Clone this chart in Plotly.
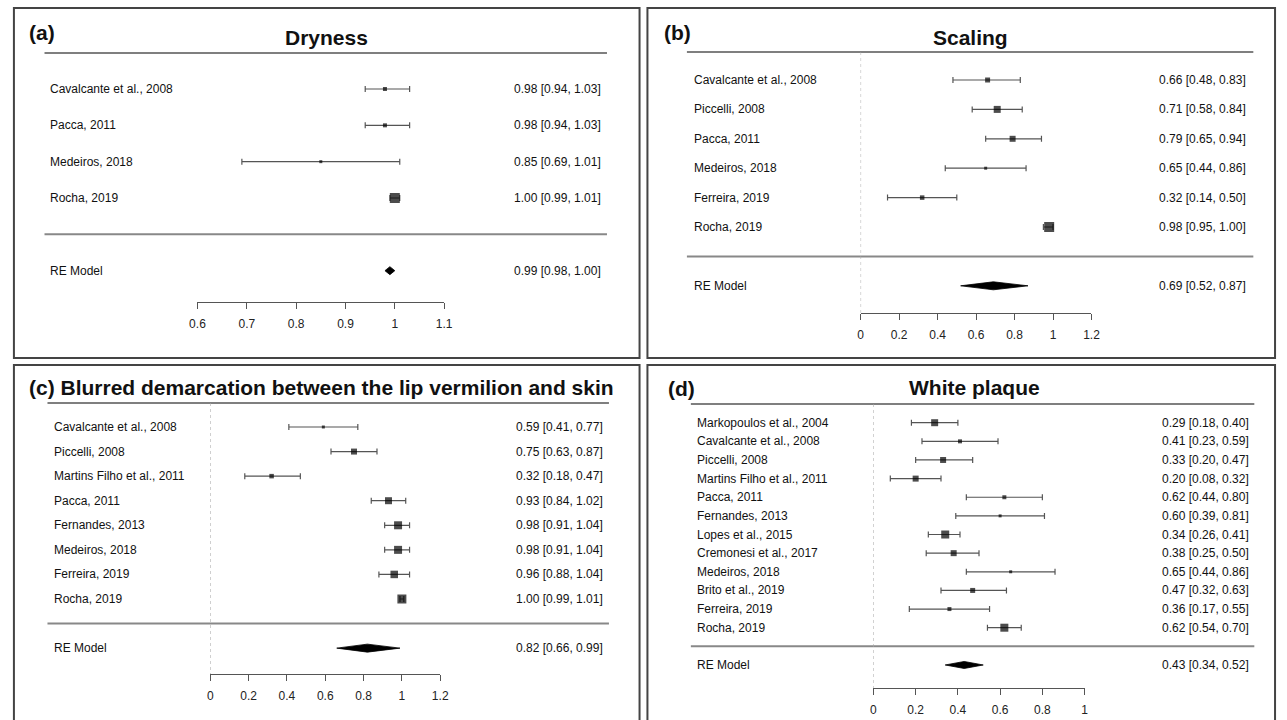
import plotly.graph_objects as go

W, H = 1287, 720
FONT = "Liberation Sans, Arial, Helvetica, sans-serif"

# ---------------- data ----------------
a_studies = ["Cavalcante et al., 2008", "Pacca, 2011", "Medeiros, 2018", "Rocha, 2019"]
a_est = [0.98, 0.98, 0.85, 1.00]
a_lo = [0.94, 0.94, 0.69, 0.99]
a_hi = [1.03, 1.03, 1.01, 1.01]
a_size = [4, 4, 3, 10]
a_re = [0.99, 0.98, 1.00]
a_ticks = [0.6, 0.7, 0.8, 0.9, 1.0, 1.1]

b_studies = ["Cavalcante et al., 2008", "Piccelli, 2008", "Pacca, 2011", "Medeiros, 2018",
             "Ferreira, 2019", "Rocha, 2019"]
b_est = [0.66, 0.71, 0.79, 0.65, 0.32, 0.98]
b_lo = [0.48, 0.58, 0.65, 0.44, 0.14, 0.95]
b_hi = [0.83, 0.84, 0.94, 0.86, 0.50, 1.00]
b_size = [5, 7, 6, 3, 4.5, 10]
b_re = [0.69, 0.52, 0.87]
b_ticks = [0, 0.2, 0.4, 0.6, 0.8, 1.0, 1.2]

c_studies = ["Cavalcante et al., 2008", "Piccelli, 2008", "Martins Filho et al., 2011", "Pacca, 2011",
             "Fernandes, 2013", "Medeiros, 2018", "Ferreira, 2019", "Rocha, 2019"]
c_est = [0.59, 0.75, 0.32, 0.93, 0.98, 0.98, 0.96, 1.00]
c_lo = [0.41, 0.63, 0.18, 0.84, 0.91, 0.91, 0.88, 0.99]
c_hi = [0.77, 0.87, 0.47, 1.02, 1.04, 1.04, 1.04, 1.01]
c_size = [3, 6, 4.5, 7, 8, 8, 7.5, 9]
c_re = [0.82, 0.66, 0.99]
c_ticks = [0, 0.2, 0.4, 0.6, 0.8, 1.0, 1.2]

d_studies = ["Markopoulos et al., 2004", "Cavalcante et al., 2008", "Piccelli, 2008",
             "Martins Filho et al., 2011", "Pacca, 2011", "Fernandes, 2013", "Lopes et al., 2015",
             "Cremonesi et al., 2017", "Medeiros, 2018", "Brito et al., 2019", "Ferreira, 2019",
             "Rocha, 2019"]
d_est = [0.29, 0.41, 0.33, 0.20, 0.62, 0.60, 0.34, 0.38, 0.65, 0.47, 0.36, 0.62]
d_lo = [0.18, 0.23, 0.20, 0.08, 0.44, 0.39, 0.26, 0.25, 0.44, 0.32, 0.17, 0.54]
d_hi = [0.40, 0.59, 0.47, 0.32, 0.80, 0.81, 0.41, 0.50, 0.86, 0.63, 0.55, 0.70]
d_size = [7, 4, 6, 6, 4, 3, 8, 6, 3, 5, 4, 8]
d_re = [0.43, 0.34, 0.52]
d_ticks = [0, 0.2, 0.4, 0.6, 0.8, 1.0]

panels = [
    dict(studies=a_studies, est=a_est, lo=a_lo, hi=a_hi, size=a_size, re=a_re, ticks=a_ticks,
         box=(6, 8, 640, 358), label_x=44, text_x=600, line_x=(37, 607), top_line=53,
         row_top=89, row_bot=198, axis_y=302, xpx=(192, 442), zero_line=False, dia_h=4,
         tag="(a)", tag_pos=(22, 33), title="Dryness", title_pos=(323, 37)),
    dict(studies=b_studies, est=b_est, lo=b_lo, hi=b_hi, size=b_size, re=b_re, ticks=b_ticks,
         box=(648, 8, 1284, 358), label_x=696, text_x=1254, line_x=(688, 1262), top_line=52,
         row_top=80, row_bot=227, axis_y=313, xpx=(864, 1098), zero_line=True, dia_h=4,
         tag="(b)", tag_pos=(666, 33), title="Scaling", title_pos=(975, 37)),
    dict(studies=c_studies, est=c_est, lo=c_lo, hi=c_hi, size=c_size, re=c_re, ticks=c_ticks,
         box=(6, 365, 640, 724), label_x=48, text_x=602, line_x=(40, 609), top_line=403,
         row_top=427, row_bot=599, axis_y=674, xpx=(205, 438), zero_line=True, dia_h=4,
         tag=None, tag_pos=None, title="(c) Blurred demarcation between the lip vermilion and skin",
         title_pos=(22, 387)),
    dict(studies=d_studies, est=d_est, lo=d_lo, hi=d_hi, size=d_size, re=d_re, ticks=d_ticks,
         box=(648, 365, 1284, 724), label_x=699, text_x=1257, line_x=(692, 1263), top_line=404,
         row_top=422.7, row_bot=627.7, axis_y=688, xpx=(877, 1091), zero_line=True, dia_h=3.5,
         tag="(d)", tag_pos=(670, 388), title="White plaque", title_pos=(979, 387)),
]

PAD = 3  # annotation inner padding, in px


def fx(px):
    return px / W


def fy(py):
    return 1 - py / H


fig = go.Figure()
annotations = []
shapes = []
layout_axes = {}


def fmt(e, l, h):
    return f"{e:.2f} [{l:.2f}, {h:.2f}]"


def tick_label(v):
    return f"{v:g}"


def txt(x, y, yref, text, anchor, size=12, bold=False):
    return dict(x=x, xref="paper", y=y, yref=yref, text=("<b>" + text + "</b>") if bold else text,
                xanchor=anchor, yanchor="middle", showarrow=False,
                font=dict(size=size, color="#111111", family=FONT))


for i, p in enumerate(panels):
    n = i + 1
    xa = "x" if n == 1 else f"x{n}"
    ya = "y" if n == 1 else f"y{n}"
    k = len(p["studies"])
    s = (p["row_bot"] - p["row_top"]) / (k - 1)

    def px2r(py, p=p, s=s):
        return 1 + (p["row_bot"] - py) / s

    rows = list(range(k, 0, -1))

    # confidence intervals (drawn first, under the squares)
    fig.add_trace(go.Scatter(
        x=p["est"], y=rows, mode="markers", xaxis=xa, yaxis=ya,
        marker=dict(size=1, color="rgba(0,0,0,0)"),
        error_x=dict(type="data", symmetric=False,
                     array=[h - e for e, h in zip(p["est"], p["hi"])],
                     arrayminus=[e - l for e, l in zip(p["est"], p["lo"])],
                     color="#555555", thickness=1.2, width=3),
        cliponaxis=False, showlegend=False, hoverinfo="skip"))
    # study estimates
    fig.add_trace(go.Scatter(
        x=p["est"], y=rows, mode="markers", xaxis=xa, yaxis=ya,
        marker=dict(symbol="square", size=p["size"], color="black", line=dict(width=0)),
        cliponaxis=False, showlegend=False, hoverinfo="skip"))

    # RE model diamond
    re_e, re_l, re_h = p["re"]
    dh = p["dia_h"] / s
    fig.add_trace(go.Scatter(
        x=[re_l, re_e, re_h, re_e, re_l], y=[-1, -1 + dh, -1, -1 - dh, -1],
        mode="lines", fill="toself", fillcolor="black", line=dict(color="black", width=0.8),
        xaxis=xa, yaxis=ya, showlegend=False, hoverinfo="skip"))

    x0px, x1px = p["xpx"]
    layout_axes["xaxis" if n == 1 else f"xaxis{n}"] = dict(
        domain=[fx(x0px), fx(x1px)], range=[p["ticks"][0], p["ticks"][-1]], anchor=ya,
        tickvals=p["ticks"], ticktext=[tick_label(v) for v in p["ticks"]],
        ticks="outside", ticklen=6, tickwidth=1.2, tickcolor="#555555",
        showline=True, linecolor="#555555", linewidth=1.2, showgrid=False, zeroline=False,
        tickfont=dict(size=12, color="#222222", family=FONT), ticklabelstandoff=4,
        fixedrange=True)
    bx0, by0, bx1, by1 = p["box"]
    layout_axes["yaxis" if n == 1 else f"yaxis{n}"] = dict(
        domain=[fy(p["axis_y"]), fy(by0 + 2)], range=[px2r(p["axis_y"]), px2r(by0 + 2)],
        anchor=xa, visible=False, fixedrange=True)

    # study labels and values
    lx = fx(p["label_x"] - PAD)
    rx = fx(p["text_x"] + PAD)
    for r, name, e, l, h in zip(rows, p["studies"], p["est"], p["lo"], p["hi"]):
        annotations.append(txt(lx, r, ya, name, "left"))
        annotations.append(txt(rx, r, ya, fmt(e, l, h), "right"))
    annotations.append(txt(lx, -1, ya, "RE Model", "left"))
    annotations.append(txt(rx, -1, ya, fmt(re_e, re_l, re_h), "right"))

    # titles
    if p["tag"]:
        annotations.append(txt(fx(p["tag_pos"][0] - PAD), fy(p["tag_pos"][1]), "paper",
                               p["tag"], "left", 21, True))
        annotations.append(txt(fx(p["title_pos"][0]), fy(p["title_pos"][1]), "paper",
                               p["title"], "center", 21, True))
    else:
        annotations.append(txt(fx(p["title_pos"][0] - PAD), fy(p["title_pos"][1]), "paper",
                               p["title"], "left", 21, True))

    # frame
    shapes.append(dict(type="rect", xref="paper", yref="paper", x0=fx(bx0), x1=fx(bx1),
                       y0=fy(by0), y1=fy(by1), line=dict(color="#444444", width=2)))
    # top rule and separator
    lx0, lx1 = p["line_x"]
    shapes.append(dict(type="line", xref="paper", yref="paper", x0=fx(lx0), x1=fx(lx1),
                       y0=fy(p["top_line"]), y1=fy(p["top_line"]),
                       line=dict(color="#555555", width=1.3)))
    shapes.append(dict(type="line", xref="paper", yref=ya, x0=fx(lx0), x1=fx(lx1), y0=0, y1=0,
                       line=dict(color="#888888", width=2)))
    # dotted reference line at 0
    if p["zero_line"]:
        shapes.append(dict(type="line", xref=xa, yref="paper", x0=0, x1=0,
                           y0=fy(p["top_line"]), y1=fy(p["axis_y"]),
                           line=dict(color="#aaaaaa", width=1, dash="dot")))

fig.update_layout(
    width=W, height=H, margin=dict(l=0, r=0, t=0, b=0),
    paper_bgcolor="white", plot_bgcolor="rgba(0,0,0,0)",
    annotations=annotations, shapes=shapes, showlegend=False,
    font=dict(family=FONT, size=12, color="#111111"),
    **layout_axes)

fig.write_html("out.html")
